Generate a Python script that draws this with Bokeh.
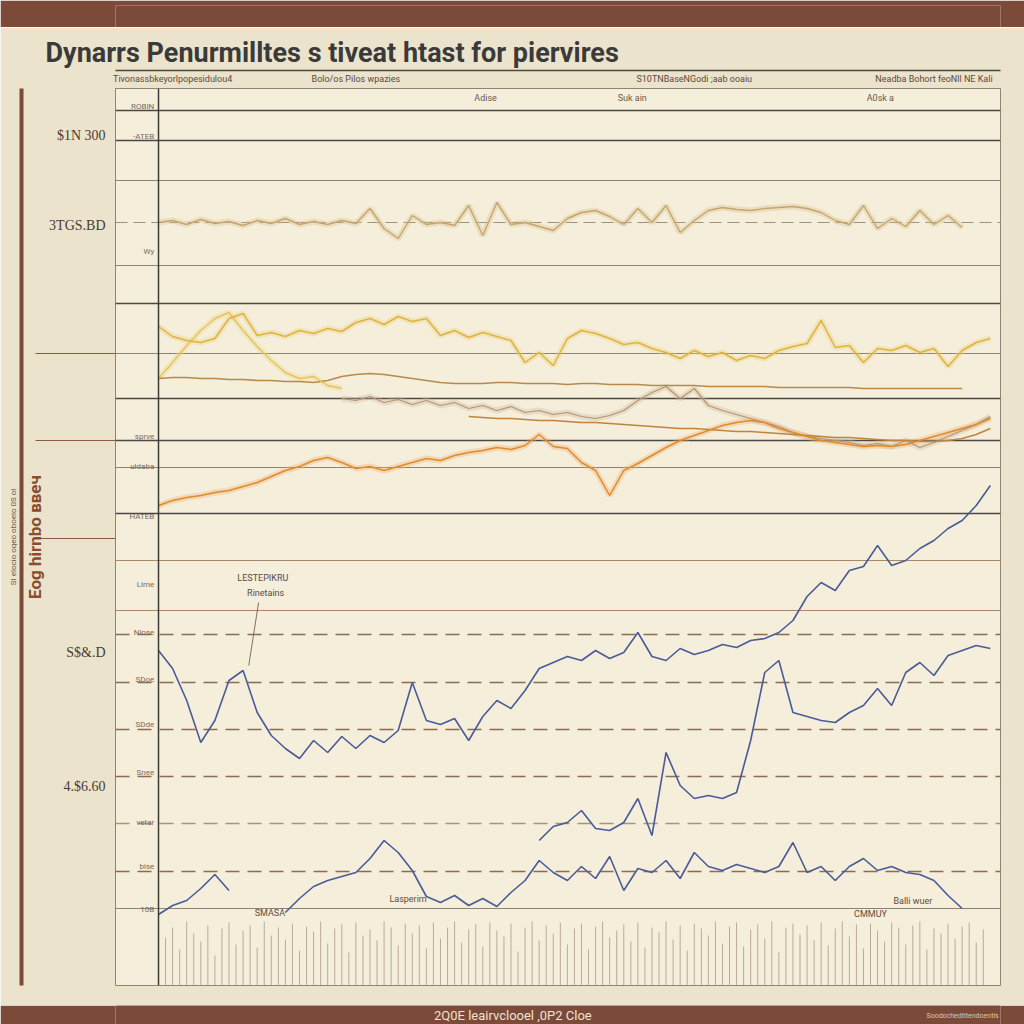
import numpy as np
from bokeh.plotting import figure
from bokeh.layouts import column
from bokeh.models import Range1d, LinearAxis, FixedTicker, Grid, Span
from bokeh.core.properties import value
from bokeh.embed import file_html
from bokeh.resources import INLINE

NaN = float("nan")

# ---------------- data ----------------
days = list(range(60))

tan_top = [763, 765, 761, 766, 762, 764, 760, 765, 762, 767, 761, 764, 761, 765, 762, 777, 757, 747, 770, 761,
           763, 760, 780, 750, 783, 761, 763, 759, 755, 767, 773, 775, 769, 761, 777, 763, 780, 753, 765, 775,
           778, 776, 775, 777, 778, 779, 777, 773, 765, 761, 780, 757, 767, 759, 775, 761, 770, 758, NaN, NaN]

yellow_main = [659, 649, 645, 643, 647, 667, 672, 650, 653, 649, 655, 652, 657, 654, 663, 667, 661, 669, 664, 667,
               650, 655, 648, 653, 649, 645, 623, 633, 620, 647, 655, 652, 647, 641, 643, 637, 633, 627, 635, 629,
               633, 625, 630, 627, 635, 639, 642, 665, 638, 640, 623, 637, 635, 640, 633, 637, 619, 635, 643, 647]

yellow_peak = [607, 623, 640, 655, 667, 673, 655, 639, 625, 613, 607, 609, 600, 597] + [NaN] * 46

brown_flat = [607, 608, 608, 607, 607, 606, 606, 605, 605, 604, 604, 603, 605, 609, 611, 612, 611, 609, 607, 605,
              603, 602, 602, 602, 603, 603, 602, 602, 602, 601, 602, 602, 601, 601, 601, 600, 600, 600, 600, 599,
              599, 599, 599, 599, 598, 598, 598, 598, 598, 598, 597, 597, 597, 597, 597, 597, 597, 597, NaN, NaN]

taupe_mid = [NaN] * 13 + [587, 585, 589, 583, 586, 581, 585, 580, 583, 577, 580, 575, 579, 573, 575, 571, 573,
                          569, 567, 570, 575, 585, 593, 599, 587, 597, 580, 575, 571, 567, 563, 559, 553, 549,
                          547, 545, 543, 540, 542, 539, 545, 538, 543, 549, 555, 561, 569]

orange_main = [480, 485, 488, 490, 493, 495, 499, 503, 509, 515, 519, 525, 528, 523, 517, 519, 515, 519, 523, 527,
               525, 530, 533, 535, 538, 536, 540, 551, 539, 537, 523, 515, 490, 515, 522, 530, 538, 545, 550, 555,
               560, 563, 565, 563, 557, 553, 549, 545, 543, 541, 539, 540, 539, 541, 545, 549, 553, 557, 561, 567]

ochre_smooth = [NaN] * 22 + [569, 568, 567, 567, 566, 565, 565, 564, 563, 563, 562, 561, 560, 559, 558, 557, 557,
                             556, 555, 554, 554, 553, 552, 551, 550, 549, 548, 548, 547, 546, 545, 545, 544, 544,
                             545, 547, 551, 557]

blue_upper = [335, 317, 285, 243, 265, 305, 315, 273, 250, 237, 227, 245, 233, 249, 237, 250, 243, 255, 303, 265,
              261, 267, 245, 269, 285, 277, 295, 317, 323, 329, 325, 335, 327, 333, 353, 329, 325, 337, 331, 335,
              341, 338, 345, 347, 353, 365, 389, 403, 395, 415, 419, 440, 420, 425, 437, 445, 457, 465, 480, 500]

blue_mid = [NaN] * 27 + [145, 159, 163, 175, 157, 155, 163, 187, 150, 233, 200, 187, 190, 187, 193, 245, 313, 325,
                         273, 269, 265, 263, 273, 280, 297, 280, 313, 323, 310, 330, 335, 340, 337]

blue_low = [71, 80, 85, 97, 111, 95, NaN, NaN, NaN, 73, 87, 99, 105, 109, 113, 127, 145, 133, 115, 89,
            83, 90, 80, 87, 79, 93, 105, 125, 113, 105, 119, 107, 129, 95, 117, 113, 125, 107, 133, 119,
            115, 121, 117, 113, 119, 143, 113, 119, 105, 119, 127, 115, 119, 113, 111, 105, 90, 77, NaN, NaN]

rug_pos = list(np.arange(0, 59, 0.5))
rug_h = [62, 48, 58, 36, 64, 52, 44, 60, 30, 57, 63, 41, 55, 60, 38, 64, 50, 58, 46, 62,
         35, 59, 54, 64, 42, 57, 61, 33, 63, 50, 56, 45, 64, 58, 40, 62, 52, 60, 37, 63,
         47, 58, 64, 43, 56, 61, 39, 63, 55, 49, 62, 34, 58, 64, 45, 60, 52, 63, 41, 57,
         62, 36, 59, 64, 48, 55, 61, 44, 63, 38, 58, 53, 64, 46, 60, 35, 62, 57, 50, 64,
         42, 59, 63, 39, 56, 61, 47, 64, 33, 58, 62, 51, 60, 45, 63, 40, 57, 64, 49, 61,
         37, 62, 55, 44, 63, 58, 41, 60, 64, 36, 57, 52, 62, 47, 59, 63, 43, 56]

# gridline levels
grid_dark = [875, 845, 682, 587, 545, 472]
grid_gray = [805, 720, 632, 518, 77]
grid_dash_gray = [763]
grid_brown = [425, 375]
grid_dash_brown = [351, 303, 256, 209, 114]
grid_dash_light = [162]

# axis texts
big_ticks = [850, 760, 333, 199]
big_labels = ["$1N 300", "3TGS.BD", "S$&.D", "4.$6.60"]
stub_ticks = [632, 545, 447]

small_levels = [875, 845, 730, 545, 515, 465, 397, 349, 302, 257, 209, 159, 115, 72]
small_labels = ["ROBIN", "-ATEB", "Wy", "sprve", "uldaba", "HATEB", "Lime", "Nlose",
                "SDoe", "SDde", "Snee", "vetar", "bise", "10B"]

hdr_ticks = [1, 14, 38, 55]
hdr_labels = ["Tivonassbkeyorlpopesidulou4", "Bolo/os Pilos wpazies",
              "S10TNBaseNGodi ;aab ooaiu", "Neadba Bohort feoNll NE Kali"]

top_note_x = [23.2, 33.6, 51.2]
top_note_y = [888, 888, 888]
top_notes = ["Adise", "Suk ain", "A0sk a"]

note_x = [7.4, 7.6, 17.7, 7.9, 50.5, 53.5]
note_y = [408, 393, 87, 73, 72, 85]
notes = ["LESTEPIKRU", "Rinetains", "Lasperim", "SMASA", "CMMUY", "Balli wuer"]
callout_x = [7.1, 6.4]
callout_y = [383, 320]

title_text = "Dynarrs Penurmilltes s tiveat htast for piervires"
side_label = "Eog hirnbo ввеч"
edge_label = "SI elocio oqeo oboelo 0S ol"
footer_text = "2Q0E leairvclooel ,0P2 Cloe"
footer_note = "Soodochedtitendoentis"

# ---------------- styling ----------------
BG_OUT = "#ebe3cb"
BG_IN = "#f4eedb"
BROWN = "#7b4a39"
SANS = "Roboto"
SERIF = "Liberation Serif"


def drop_grids(fig):
    fig.center = [r for r in fig.center if not isinstance(r, Grid)]


p = figure(width=1024, height=978, x_range=Range1d(-3.05, 59.72), y_range=Range1d(0, 897),
           x_axis_location=None, y_axis_location=None, toolbar_location=None, output_backend="svg",
           min_border_left=115, min_border_right=24, min_border_top=61, min_border_bottom=20,
           background_fill_color=BG_IN, border_fill_color=BG_OUT,
           outline_line_color="#8c8474", outline_line_width=1, title=title_text)
drop_grids(p)

p.title.align = "left"
p.title.offset = -70
p.title.text_font = SANS
p.title.text_font_size = "27px"
p.title.text_font_style = "bold"
p.title.text_color = "#3b3a3a"
p.title.standoff = 3


def add_grid(ticks, color, width, dash="solid", alpha=1.0):
    g = Grid(dimension=1, ticker=FixedTicker(ticks=ticks), grid_line_color=color,
             grid_line_width=width, grid_line_dash=dash, grid_line_alpha=alpha)
    p.add_layout(g)


add_grid(grid_dark, "#4a4845", 1.4)
add_grid(grid_gray, "#8a8376", 1.1)
add_grid(grid_dash_gray, "#9a9284", 1.2, "12 6")
add_grid(grid_brown, "#a88a68", 1.1)
add_grid(grid_dash_brown, "#8c6c50", 1.6, "14 8")
add_grid(grid_dash_light, "#a89478", 1.3, "14 8")

p.add_layout(Span(location=0, dimension="height", line_color="#3d3a36", line_width=1.5))

# rug of thin verticals at the bottom
p.segment(x0=rug_pos, y0=0, x1=rug_pos, y1=rug_h, line_color="#a39682", line_width=1, line_alpha=0.75)

# soft haze under the warm series
for ys, col in [(tan_top, "#d8bf8c"), (yellow_main, "#ecd27a"), (yellow_peak, "#eed684"),
                (orange_main, "#eeb070"), (taupe_mid, "#cdb79a")]:
    p.line(days, np.array(ys, dtype=float), line_color=col, line_width=6, line_alpha=0.35)

# series
p.line(days, np.array(tan_top, dtype=float), line_color="#c6a46c", line_width=1.4)
p.line(days, np.array(brown_flat, dtype=float), line_color="#b88a4c", line_width=1.6)
p.line(days, np.array(yellow_peak, dtype=float), line_color="#e6c35a", line_width=1.4)
p.line(days, np.array(yellow_main, dtype=float), line_color="#e0b23e", line_width=1.5)
p.line(days, np.array(taupe_mid, dtype=float), line_color="#b39474", line_width=1.2)
p.line(days, np.array(ochre_smooth, dtype=float), line_color="#c0853c", line_width=1.4)
p.line(days, np.array(orange_main, dtype=float), line_color="#e08a2c", line_width=1.5)
p.line(days, np.array(blue_low, dtype=float), line_color="#4b5a98", line_width=1.6)
p.line(days, np.array(blue_mid, dtype=float), line_color="#4b5a98", line_width=1.6)
p.line(days, np.array(blue_upper, dtype=float), line_color="#4b5a98", line_width=1.6)

# in-plot small texts
p.text(x=-0.3, y=small_levels, text=small_labels, text_align="right", text_baseline="bottom",
       text_font_size="8px", text_color="#7a6a5a", text_font=value(SANS))
p.text(x=top_note_x, y=top_note_y, text=top_notes, text_align="center", text_baseline="middle",
       text_font_size="9px", text_color="#6a5a4c", text_font=value(SANS))
p.text(x=note_x, y=note_y, text=notes, text_align="center", text_baseline="middle",
       text_font_size="9px", text_color="#5e4c40", text_font=value(SANS))
p.line(callout_x, callout_y, line_color="#6a5040", line_width=0.8)

# left axes
ax_big = LinearAxis(ticker=FixedTicker(ticks=big_ticks, minor_ticks=stub_ticks),
                    major_label_overrides=dict(zip(big_ticks, big_labels)),
                    axis_line_color=None, major_tick_line_color=None,
                    major_tick_in=0, major_tick_out=0,
                    minor_tick_in=0, minor_tick_out=80, minor_tick_line_color="#8b5a40",
                    minor_tick_line_width=1.2,
                    major_label_standoff=-70, major_label_text_font_size="14px",
                    major_label_text_color="#4a3b33", major_label_text_font=SERIF)
p.add_layout(ax_big, "left")

ax_rot = LinearAxis(ticker=FixedTicker(ticks=[]), axis_line_color=None,
                    major_tick_line_color=None, minor_tick_line_color=None,
                    major_tick_in=0, major_tick_out=0, minor_tick_in=0, minor_tick_out=0,
                    major_label_standoff=0,
                    axis_label=side_label, axis_label_text_font_size="17px",
                    axis_label_text_font_style="bold", axis_label_text_color="#8a4c30",
                    axis_label_standoff=2, axis_label_text_font=SANS)
p.add_layout(ax_rot, "left")

ax_bar = LinearAxis(ticker=FixedTicker(ticks=[]), axis_line_color=BROWN, axis_line_width=4,
                    major_tick_line_color=None, minor_tick_line_color=None,
                    major_tick_in=0, major_tick_out=0, minor_tick_in=0, minor_tick_out=0,
                    major_label_standoff=0,
                    axis_label=edge_label, axis_label_text_font_size="8px",
                    axis_label_text_font_style="normal", axis_label_text_color="#6b5a4c",
                    axis_label_standoff=4, axis_label_text_font=SANS)
p.add_layout(ax_bar, "left")

# header row + underline above the frame
ax_hdr = LinearAxis(ticker=FixedTicker(ticks=hdr_ticks),
                    major_label_overrides=dict(zip(hdr_ticks, hdr_labels)),
                    axis_line_color=None, major_tick_line_color=None, minor_tick_line_color=None,
                    major_tick_in=0, major_tick_out=0, minor_tick_in=0, minor_tick_out=0,
                    major_label_standoff=5, major_label_text_font_size="9px",
                    major_label_text_color="#5a4a40", major_label_text_font=SANS)
p.add_layout(ax_hdr, "above")

ax_rule = LinearAxis(ticker=FixedTicker(ticks=[]), axis_line_color="#4b4844", axis_line_width=1.5,
                     major_tick_line_color=None, minor_tick_line_color=None,
                     major_tick_in=0, major_tick_out=0, minor_tick_in=0, minor_tick_out=0,
                     major_label_standoff=0)
p.add_layout(ax_rule, "above")

# top and bottom brown bands
top = figure(width=1024, height=27, toolbar_location=None, output_backend="svg",
             x_axis_location=None, y_axis_location=None,
             min_border_top=5, min_border_bottom=0, min_border_left=0, min_border_right=0,
             x_range=Range1d(0, 1), y_range=Range1d(0, 1),
             background_fill_color=BROWN, border_fill_color=BROWN, outline_line_color=None)
drop_grids(top)

bottom = figure(width=1024, height=19, toolbar_location=None, output_backend="svg",
                x_axis_location=None, y_axis_location=None, min_border=0,
                x_range=Range1d(0, 1), y_range=Range1d(0, 1),
                background_fill_color=BROWN, border_fill_color=BROWN, outline_line_color=None)
drop_grids(bottom)
bottom.text(x=[0.449], y=[0.45], text=[footer_text], text_align="center", text_baseline="middle",
            text_font_size="13px", text_color="#efe3cf", text_font=value(SANS))
bottom.text(x=[0.998], y=[0.45], text=[footer_note], text_align="right", text_baseline="middle",
            text_font_size="7px", text_color="#d9c8b0", text_font=value(SANS))

layout = column(top, p, bottom, spacing=0)

open("out.html", "w").write(file_html(layout, INLINE))
